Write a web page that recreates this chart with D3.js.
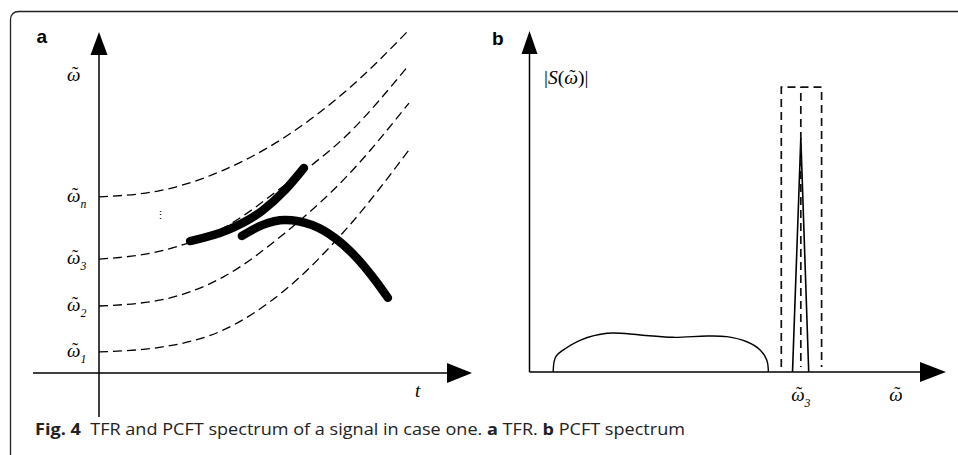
<!DOCTYPE html>
<html>
<head>
<meta charset="utf-8">
<script src="https://cdn.jsdelivr.net/npm/d3@7"></script>
<style>
  html, body { margin: 0; padding: 0; background: #fff; }
  svg { display: block; }
  .math { font-family: "Liberation Serif", Tinos, "Times New Roman", serif; }
</style>
</head>
<body>
<script>
// ---------- DATA ----------
const curveT = [0, 2, 4, 6, 8, 10];
const curveN = [5.18, 5.37, 5.96, 6.94, 8.32, 10.09];
const curve3 = [3.35, 3.59, 4.26, 5.53, 7.0, 9.06];
const curve2 = [1.97, 2.15, 2.82, 4.12, 5.79, 7.94];
const curve1 = [0.62, 0.76, 1.26, 2.44, 4.26, 6.56];
const comp1T = [2.94, 4.16, 5.26, 6.0, 6.61];
const comp1W = [3.88, 4.21, 4.77, 5.38, 6.03];
const comp2T = [4.61, 5.26, 6.0, 6.87, 7.61, 8.35, 8.9, 9.32];
const comp2W = [4.03, 4.35, 4.5, 4.35, 3.97, 3.35, 2.74, 2.21];
const tickSubs = ["n", "3", "2", "1"];
const tickVals = [5.18, 3.35, 1.97, 0.62];
const lumpW = [0.57, 0.59, 0.64, 0.78, 1.23, 1.87, 2.67, 3.46, 4.27, 4.75, 5.23, 5.55, 5.71, 5.75];
const lumpS = [0.0, 0.29, 0.47, 0.62, 0.94, 1.14, 1.09, 1.02, 1.06, 1.04, 0.89, 0.65, 0.35, 0.0];
const peakW = [6.33, 6.53, 6.72];
const peakS = [0.0, 6.88, 0.0];
const windowLeft = 6.06, windowCenter = 6.53, windowRight = 7.03, windowTop = 8.38;

// ---------- SETUP ----------
const W = 958, H = 455;
const svg = d3.select("body").append("svg").attr("width", W).attr("height", H);

svg.append("path")
  .attr("d", "M10.5,455 V20 Q10.5,11.5 19,11.5 H958")
  .attr("fill", "none").attr("stroke", "#222").attr("stroke-width", 1.3);

function measure(str, size, italic) {
  const t = svg.append("text").attr("class", "math").attr("font-size", size)
    .attr("font-style", italic ? "italic" : "normal").text(str);
  const w = t.node().getComputedTextLength();
  t.remove();
  return w;
}
function appendOmega(t, size) {
  const ow = measure("ω", size, true);
  const tw = measure("˜", size * 0.95, false);
  t.append("tspan").attr("font-style", "italic").text("ω");
  t.append("tspan").attr("font-style", "normal").attr("font-size", size * 0.95)
    .attr("dx", -ow / 2 - tw / 2 + 1.2).attr("dy", -size * 0.06).text("˜");
  return { back: ow / 2 - 1.2 - tw / 2, dy: size * 0.06 };
}
function omegaLabel(g, x, y, sub, size, anchor) {
  const t = g.append("text").attr("class", "math").attr("x", x).attr("y", y)
    .attr("font-size", size).attr("fill", "#000");
  const r = appendOmega(t, size);
  let total = measure("ω", size, true);
  if (sub) {
    t.append("tspan").attr("font-style", "italic").attr("dx", r.back).attr("dy", r.dy + size * 0.3)
      .attr("font-size", size * 0.62).text(sub);
    total += measure(sub, size * 0.62, true);
  }
  if (anchor === "middle") t.attr("x", x - total / 2);
  return t;
}

// ---------- PANEL A ----------
const xA = d3.scaleLinear().domain([0, 12]).range([99, 471]);
const yA = d3.scaleLinear().domain([0, 10]).range([373, 33]);
const gA = svg.append("g");

gA.append("line").attr("x1", 33).attr("x2", xA(12) - 20).attr("y1", yA(0)).attr("y2", yA(0))
  .attr("stroke", "#000").attr("stroke-width", 1.5);
gA.append("line").attr("x1", xA(0)).attr("x2", xA(0)).attr("y1", 417).attr("y2", yA(10) + 20)
  .attr("stroke", "#000").attr("stroke-width", 1.5);
gA.append("path").attr("d", `M${xA(12)+1},${yA(0)} L${xA(12)-24},${yA(0)-10} L${xA(12)-24},${yA(0)+10} Z`).attr("fill", "#000");
gA.append("path").attr("d", `M${xA(0)},${yA(10)-1} L${xA(0)-8.5},${yA(10)+22} L${xA(0)+8.5},${yA(10)+22} Z`).attr("fill", "#000");

const lineA = d3.line().x(d => xA(d[0])).y(d => yA(d[1])).curve(d3.curveMonotoneX);
[curveN, curve3, curve2, curve1].forEach(c => {
  gA.append("path").attr("d", lineA(curveT.map((t, i) => [t, c[i]])))
    .attr("fill", "none").attr("stroke", "#000").attr("stroke-width", 1.3)
    .attr("stroke-dasharray", "9,5");
});
gA.append("path").attr("d", lineA(comp1T.map((t, i) => [t, comp1W[i]])))
  .attr("fill", "none").attr("stroke", "#000").attr("stroke-width", 8.5).attr("stroke-linecap", "round");
gA.append("path").attr("d", lineA(comp2T.map((t, i) => [t, comp2W[i]])))
  .attr("fill", "none").attr("stroke", "#000").attr("stroke-width", 8.5).attr("stroke-linecap", "round");

tickSubs.forEach((s, i) => omegaLabel(gA, 67, yA(tickVals[i]) + 5, s, 19));
omegaLabel(gA, 67, 81, null, 19);
gA.append("text").attr("class", "math").attr("x", 160).attr("y", 219).attr("font-size", 11)
  .attr("text-anchor", "middle").text("⋮");
gA.append("text").attr("class", "math").attr("x", 415).attr("y", 397).attr("font-size", 19)
  .attr("font-style", "italic").text("t");
gA.append("text").attr("x", 36.5).attr("y", 42.5).attr("font-family", "'Liberation Sans', Arial, sans-serif")
  .attr("font-weight", "bold").attr("font-size", 19).text("a");

// ---------- PANEL B ----------
const xB = d3.scaleLinear().domain([0, 10]).range([529.5, 945]);
const yB = d3.scaleLinear().domain([0, 10]).range([372, 32]);
const gB = svg.append("g");
gB.append("line").attr("x1", xB(0)).attr("x2", xB(10) - 20).attr("y1", yB(0)).attr("y2", yB(0))
  .attr("stroke", "#000").attr("stroke-width", 1.5);
gB.append("line").attr("x1", xB(0)).attr("x2", xB(0)).attr("y1", yB(0)).attr("y2", yB(10) + 20)
  .attr("stroke", "#000").attr("stroke-width", 1.5);
gB.append("path").attr("d", `M${xB(10)+1},${yB(0)} L${xB(10)-25},${yB(0)-10} L${xB(10)-25},${yB(0)+10} Z`).attr("fill", "#000");
gB.append("path").attr("d", `M${xB(0)},${yB(10)-1} L${xB(0)-8},${yB(10)+22} L${xB(0)+8},${yB(10)+22} Z`).attr("fill", "#000");

const lineB = d3.line().x(d => xB(d[0])).y(d => yB(d[1])).curve(d3.curveCatmullRom.alpha(0.5));
gB.append("path").attr("d", lineB(lumpW.map((w, i) => [w, lumpS[i]])))
  .attr("fill", "none").attr("stroke", "#000").attr("stroke-width", 1.4);
const lineLin = d3.line().x(d => xB(d[0])).y(d => yB(d[1]));
gB.append("path").attr("d", lineLin(peakW.map((w, i) => [w, peakS[i]])))
  .attr("fill", "none").attr("stroke", "#000").attr("stroke-width", 1.6).attr("stroke-linejoin", "miter");

const dashB = "8,5";
gB.append("path")
  .attr("d", `M${xB(windowLeft)},${yB(0.15)} V${yB(windowTop)} H${xB(windowRight)} V${yB(0.15)}`)
  .attr("fill", "none").attr("stroke", "#111").attr("stroke-width", 1.7).attr("stroke-dasharray", dashB);
gB.append("line").attr("x1", xB(windowCenter)).attr("x2", xB(windowCenter))
  .attr("y1", yB(windowTop)).attr("y2", yB(0.15))
  .attr("stroke", "#111").attr("stroke-width", 1.7).attr("stroke-dasharray", dashB).attr("stroke-dashoffset", -6);

const ss = 19.5;
const sl = gB.append("text").attr("class", "math").attr("x", 544).attr("y", 84).attr("font-size", ss).attr("fill", "#000");
sl.append("tspan").text("|");
sl.append("tspan").attr("font-style", "italic").text("S");
sl.append("tspan").text("(");
const rr = appendOmega(sl, ss);
sl.append("tspan").attr("font-style", "normal").attr("font-size", ss).attr("dx", rr.back).attr("dy", rr.dy).text(")|");

omegaLabel(gB, xB(windowCenter), 401, "3", 19, "middle");
omegaLabel(gB, 896, 401, null, 19, "middle");
gB.append("text").attr("x", 492).attr("y", 45).attr("font-family", "'Liberation Sans', Arial, sans-serif")
  .attr("font-weight", "bold").attr("font-size", 19).text("b");

// ---------- CAPTION ----------
const cap = svg.append("text").attr("x", 35).attr("y", 435)
  .attr("font-family", "'Open Sans', 'Noto Sans', sans-serif").attr("font-size", 16.5).attr("fill", "#222")
  .attr("textLength", 650).attr("lengthAdjust", "spacingAndGlyphs");
cap.append("tspan").attr("font-weight", "bold").text("Fig. 4");
cap.append("tspan").text("\u00a0 TFR and PCFT spectrum of a signal in case one. ");
cap.append("tspan").attr("font-weight", "bold").text("a");
cap.append("tspan").text(" TFR. ");
cap.append("tspan").attr("font-weight", "bold").text("b");
cap.append("tspan").text(" PCFT spectrum");
</script>
</body>
</html>
